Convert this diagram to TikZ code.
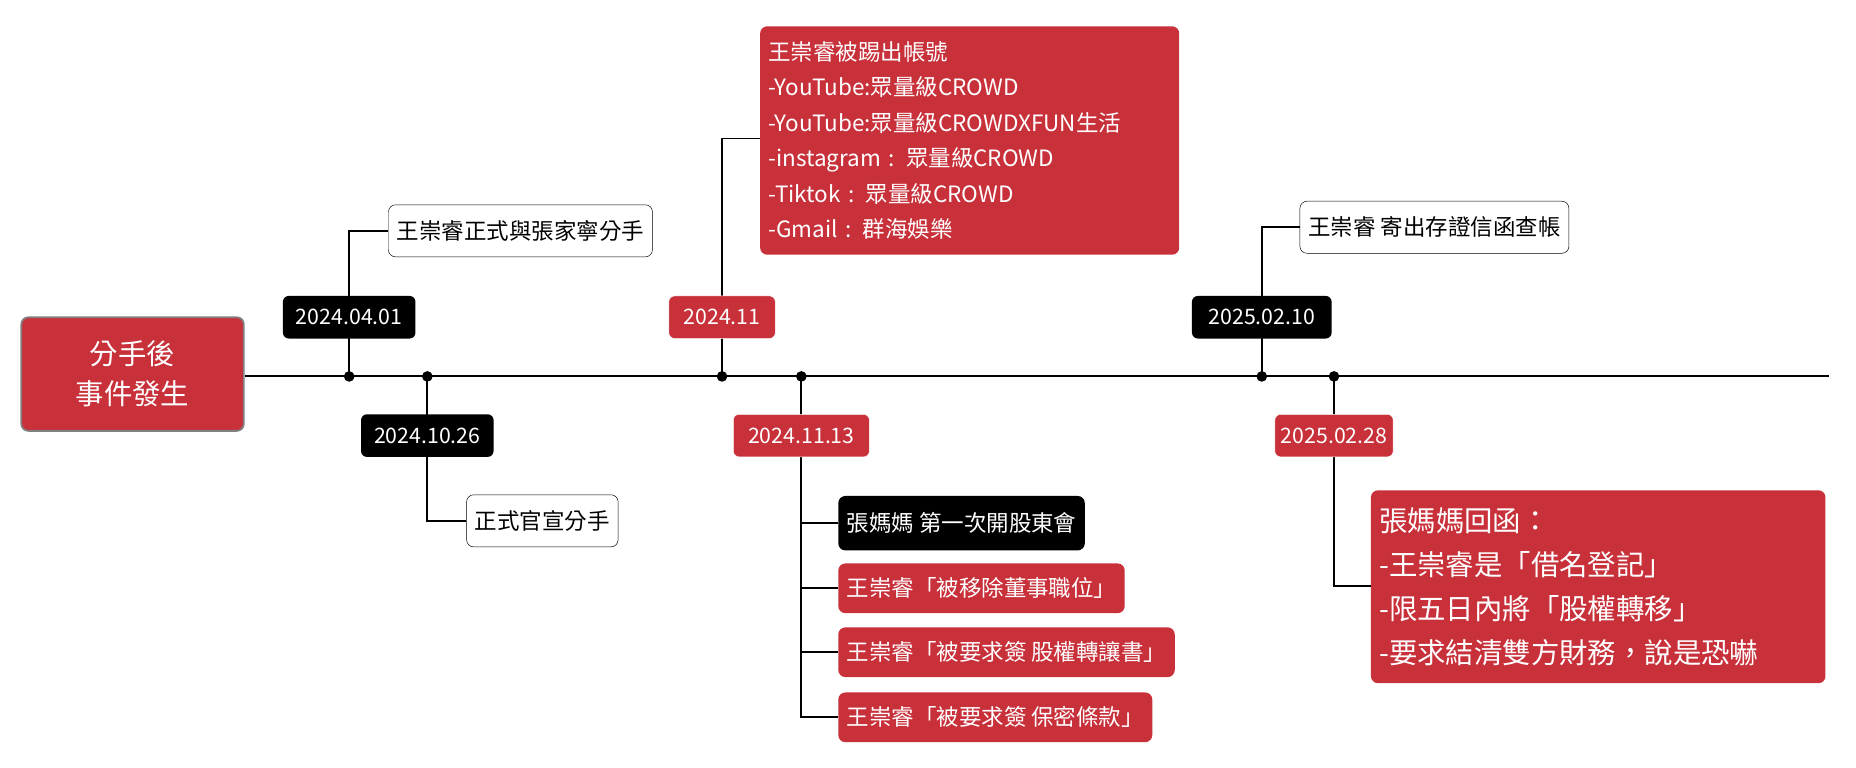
\documentclass[tikz,border=0pt]{standalone}
\usepackage{fontspec}
\setmainfont{Noto Sans CJK TC}
\definecolor{rd}{HTML}{C8303A}
\begin{document}
\begin{tikzpicture}[x=1pt,y=-1pt,
 dt/.style={rounded corners=5pt,text=white,font=\fontsize{18}{20}\selectfont,inner sep=0pt,minimum height=36pt},
 blk/.style={dt,fill=black},
 rdl/.style={dt,fill=rd,draw=white},
 wbox/.style={draw=black,rounded corners=6pt,fill=white,font=\fontsize{19}{22}\selectfont,anchor=west,minimum height=44pt,inner xsep=7pt},
 rbox/.style={fill=rd,rounded corners=6pt,text=white,font=\fontsize{19}{22}\selectfont,anchor=west,inner xsep=7pt},
 kbox/.style={fill=black,rounded corners=6pt,text=white,font=\fontsize{19}{22}\selectfont,anchor=west,inner xsep=7pt,minimum height=46pt},
 ln/.style={line width=1.6pt},
 dot/.style={circle,fill=black,inner sep=0pt,minimum size=9pt}]
\useasboundingbox (0,0) rectangle (1568,648);
\node[fill=rd,draw=gray,line width=1.5pt,rounded corners=6pt,minimum width=188pt,minimum height=96pt,text=white,align=center,font=\fontsize{24}{34}\selectfont] (start) at (112,316) {分手後\\事件發生};
\coordinate (end) at (1545,318);
\draw[ln] (start.east |- 0,318) -- (end);
\foreach \n/\x in {d1/295,d2/361,d3/610,d4/677,d5/1066,d6/1127}{\node[dot] (\n) at (\x,318) {};}
% 2024.04.01
\node[wbox] (t1) at (328,195) {王崇睿正式與張家寧分手};
\draw[ln] (d1.center) |- (t1.west);
\node[blk,minimum width=112pt] (l1) at (295,268) {2024.04.01};
% 2024.10.26
\node[wbox] (t2) at (394,440) {正式官宣分手};
\draw[ln] (d2.center) |- (t2.west);
\node[blk,minimum width=112pt] (l2) at (361,368) {2024.10.26};
% 2024.11
\node[rbox,anchor=north west,align=left,text width=340pt,minimum height=193pt,inner ysep=8pt,font=\fontsize{19}{30}\selectfont] (t3) at (642,22) {王崇睿被踢出帳號\\-YouTube:眾量級CROWD\\-YouTube:眾量級CROWDXFUN生活\\-instagram : 眾量級CROWD\\-Tiktok : 眾量級CROWD\\-Gmail : 群海娛樂};
\coordinate (b3) at (t3.west |- 0,117);
\draw[ln] (d3.center) |- (b3);
\node[rdl,minimum width=90pt] (l3) at (610,268) {2024.11};
% 2024.11.13
\node[kbox] (k1) at (708,442) {張媽媽 第一次開股東會};
\node[rbox,minimum height=42pt] (k2) at (708,497) {王崇睿「被移除董事職位」};
\node[rbox,minimum height=42pt] (k3) at (708,551) {王崇睿「被要求簽 股權轉讓書」};
\node[rbox,minimum height=42pt] (k4) at (708,606) {王崇睿「被要求簽 保密條款」};
\draw[ln] (d4.center) |- (k4.west);
\draw[ln] (d4.center) |- (k1.west);
\draw[ln] (d4.center) |- (k2.west);
\draw[ln] (d4.center) |- (k3.west);
\node[rdl,minimum width=115pt] (l4) at (677,368) {2024.11.13};
% 2025.02.10
\node[wbox] (t5) at (1098,192) {王崇睿 寄出存證信函查帳};
\draw[ln] (d5.center) |- (t5.west);
\node[blk,minimum width=118pt] (l5) at (1066,268) {2025.02.10};
% 2025.02.28
\node[rbox,anchor=north west,align=left,text width=370pt,minimum height=163pt,inner ysep=8pt,font=\fontsize{24}{37}\selectfont] (t6) at (1158,414) {張媽媽回函：\\-王崇睿是「借名登記」\\-限五日內將「股權轉移」\\-要求結清雙方財務，說是恐嚇};
\coordinate (b6) at (t6.west |- 0,495);
\draw[ln] (d6.center) |- (b6);
\node[rdl,minimum width=100pt] (l6) at (1127,368) {2025.02.28};
\end{tikzpicture}
\end{document}
